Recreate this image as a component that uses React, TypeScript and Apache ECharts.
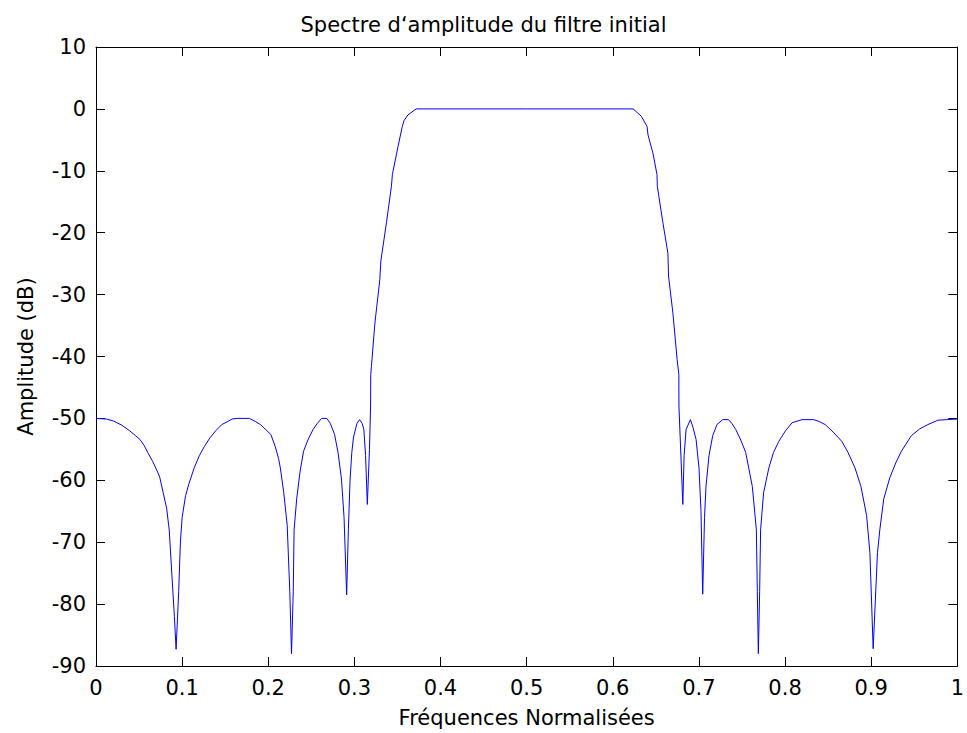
import React, { useEffect, useRef } from "react";
import * as echarts from "echarts";

const freqs: number[] = [
  0.0, 0.012, 0.02, 0.03, 0.039, 0.046, 0.051, 0.056, 0.06, 0.066, 0.071, 0.074, 0.078, 0.082, 0.085, 0.088, 0.091, 0.093,
  0.096, 0.098, 0.1, 0.104, 0.108, 0.114, 0.12, 0.126, 0.132, 0.139, 0.146, 0.153, 0.158, 0.164, 0.172, 0.178, 0.185,
  0.191, 0.197, 0.203, 0.208, 0.212, 0.214, 0.218, 0.222, 0.225, 0.227, 0.229, 0.23, 0.233, 0.237, 0.241, 0.246, 0.252,
  0.257, 0.262, 0.268, 0.272, 0.277, 0.281, 0.285, 0.288, 0.291, 0.293, 0.295, 0.297, 0.299, 0.303, 0.306, 0.309, 0.311,
  0.313, 0.315, 0.3175, 0.3188, 0.319, 0.3198, 0.3238, 0.3295, 0.3307, 0.3372, 0.343, 0.3441, 0.3506, 0.3556, 0.3576,
  0.3622, 0.3717, 0.5, 0.6236, 0.6332, 0.6398, 0.6409, 0.6467, 0.6513, 0.6517, 0.6582, 0.664, 0.6647, 0.6698, 0.6747,
  0.6767, 0.6768, 0.6813, 0.6828, 0.6851, 0.6901, 0.6932, 0.6967, 0.7001, 0.7024, 0.7044, 0.7065, 0.7082, 0.7117, 0.716,
  0.7209, 0.7275, 0.7344, 0.7382, 0.7428, 0.7486, 0.7543, 0.7578, 0.762, 0.7667, 0.7678, 0.769, 0.7705, 0.7716, 0.7751,
  0.7812, 0.7866, 0.7928, 0.8005, 0.8082, 0.8197, 0.8331, 0.8397, 0.8466, 0.8558, 0.8658, 0.8731, 0.8812, 0.8881, 0.8947,
  0.8985, 0.9023, 0.9073, 0.91, 0.9146, 0.9216, 0.9285, 0.9351, 0.9466, 0.9562, 0.9658, 0.9773, 0.9873, 1.0,
];

const amplitudeDb: number[] = [
  -50.0, -50.1, -50.4, -51.1, -52.0, -52.8, -53.4, -54.4, -55.5, -57.0, -58.5, -59.5, -62.0, -64.5, -68.0, -75.0, -82.0, -87.3,
  -78.0, -70.0, -66.0, -62.5, -60.5, -58.0, -56.0, -54.5, -53.2, -52.0, -51.0, -50.5, -50.1, -50.0, -50.0, -50.0, -50.5,
  -51.0, -51.8, -52.6, -54.5, -56.5, -58.0, -62.0, -67.3, -78.0, -88.0, -78.0, -68.0, -63.0, -58.5, -55.3, -53.5, -51.8,
  -50.8, -50.0, -50.0, -50.8, -52.6, -55.5, -59.8, -66.0, -78.5, -68.0, -59.8, -55.5, -53.0, -50.8, -50.2, -50.8, -51.8,
  -56.0, -63.9, -55.0, -48.0, -42.9, -41.6, -34.6, -27.6, -24.6, -18.4, -12.5, -10.6, -6.1, -2.85, -1.9,
  -0.97, 0.0, 0.0, 0.0, -1.2, -2.85, -4.2, -7.2, -10.6, -12.5, -18.4, -23.3, -27.0, -33.0, -40.5,
  -42.9, -48.0, -63.9, -56.0, -51.8, -50.2, -51.5, -53.4, -58.0, -65.0, -78.4, -66.0, -61.0, -56.0, -52.8,
  -51.0, -50.2, -50.2, -50.8, -51.8, -53.5, -55.5, -58.0, -61.0, -68.0, -78.0, -88.0, -78.0, -68.0, -62.0,
  -58.0, -55.5, -53.7, -52.0, -50.7, -50.2, -50.2, -50.5, -51.0, -52.2, -53.7, -55.5, -58.0, -61.0, -65.7,
  -71.7, -87.2, -71.7, -68.0, -63.0, -59.6, -57.2, -55.3, -52.8, -51.7, -51.0, -50.3, -50.2, -50.1,
];

const titleText = "Spectre d‘amplitude du filtre initial";
const xLabel = "Fréquences Normalisées";
const yLabel = "Amplitude (dB)";
const xMin = 0;
const xMax = 1;
const xStep = 0.1;
const yMin = -90;
const yMax = 10;
const yStep = 10;

const mkTick = () => ({ show: true, inside: true, length: 9, lineStyle: { color: "#000", width: 1 } });
const mkLine = () => ({ show: true, onZero: false, lineStyle: { color: "#000", width: 1 } });

export default function App() {
  const ref = useRef<HTMLDivElement>(null);
  useEffect(() => {
    if (!ref.current) return;
    const chart = echarts.init(ref.current, undefined, { renderer: "svg" });
    const font = "DejaVu Sans";
    chart.setOption({
      animation: false,
      backgroundColor: "#fff",
      title: {
        text: titleText,
        left: "center",
        top: 9,
        textStyle: { fontFamily: font, fontSize: 21, fontWeight: "normal", color: "#000" },
      },
      grid: { left: 96, right: 4, top: 47, bottom: 65 },
      xAxis: [
        {
          type: "value",
          min: xMin,
          max: xMax,
          interval: xStep,
          position: "bottom",
          name: xLabel,
          nameLocation: "middle",
          nameGap: 41,
          nameTextStyle: { fontFamily: font, fontSize: 21, color: "#000" },
          axisLine: mkLine(),
          axisTick: mkTick(),
          axisLabel: { fontFamily: font, fontSize: 21, color: "#000", margin: 11 },
          splitLine: { show: false },
        },
        {
          type: "value",
          min: xMin,
          max: xMax,
          interval: xStep,
          position: "top",
          axisLine: mkLine(),
          axisTick: mkTick(),
          axisLabel: { show: false },
          splitLine: { show: false },
        },
      ],
      yAxis: [
        {
          type: "value",
          min: yMin,
          max: yMax,
          interval: yStep,
          position: "left",
          name: yLabel,
          nameLocation: "middle",
          nameGap: 60,
          nameTextStyle: { fontFamily: font, fontSize: 21, color: "#000" },
          axisLine: mkLine(),
          axisTick: mkTick(),
          axisLabel: { fontFamily: font, fontSize: 21, color: "#000", margin: 10 },
          splitLine: { show: false },
        },
        {
          type: "value",
          min: yMin,
          max: yMax,
          interval: yStep,
          position: "right",
          axisLine: mkLine(),
          axisTick: mkTick(),
          axisLabel: { show: false },
          splitLine: { show: false },
        },
      ],
      series: [
        {
          type: "line",
          xAxisIndex: 0,
          yAxisIndex: 0,
          data: freqs.map((f, i) => [f, amplitudeDb[i]]),
          showSymbol: false,
          lineStyle: { color: "#0000ff", width: 1 },
          itemStyle: { color: "#0000ff" },
        },
      ],
    });
    return () => chart.dispose();
  }, []);
  return <div ref={ref} style={{ position: "fixed", left: 0, top: 0, width: 967, height: 733 }} />;
}
